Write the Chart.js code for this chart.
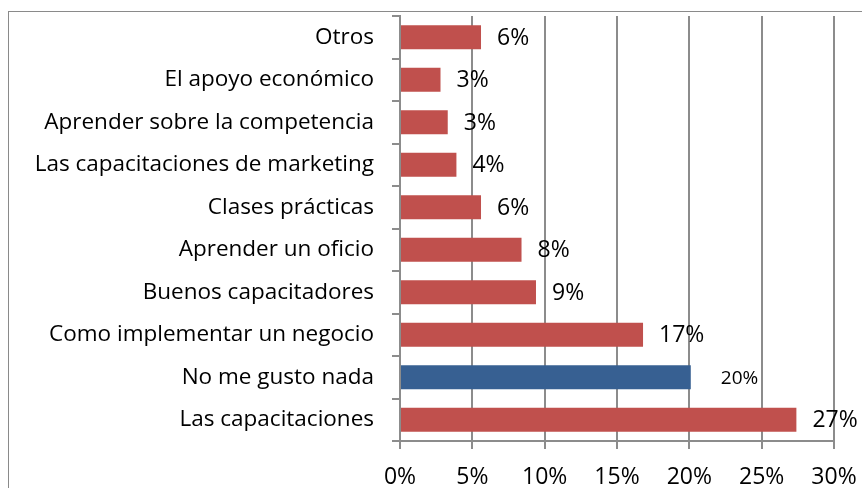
<!DOCTYPE html>
<html>
<head>
<meta charset="utf-8">
<script src="https://cdn.jsdelivr.net/npm/chart.js@4.4.1/dist/chart.umd.min.js"></script>
<style>
  html, body { margin: 0; padding: 0; background: #fff; overflow: hidden; }
  #frame { position: absolute; left: 8px; top: 11px; width: 900px; height: 520px; border: 1px solid #8a8a8a; }
  #chart { position: absolute; left: 0; top: 0; }
</style>
</head>
<body>
<div id="frame"></div>
<canvas id="chart" width="862" height="488"></canvas>
<script>
// Respuestas, de arriba hacia abajo
const categories = [
    'Otros',
    'El apoyo económico',
    'Aprender sobre la competencia',
    'Las capacitaciones de marketing',
    'Clases prácticas',
    'Aprender un oficio',
    'Buenos capacitadores',
    'Como implementar un negocio',
    'No me gusto nada',
    'Las capacitaciones'
];
const percentages = [5.6, 2.8, 3.3, 3.9, 5.6, 8.4, 9.4, 16.8, 20.1, 27.4];
const barColors = ['#c0504d', '#c0504d', '#c0504d', '#c0504d', '#c0504d',
                   '#c0504d', '#c0504d', '#c0504d', '#376092', '#c0504d'];
const xTicks = [0, 5, 10, 15, 20, 25, 30];

const FONT = '"Open Sans"';
const GRID = '#8c8c8c';

// etiquetas de porcentaje a la derecha de cada barra
const valueLabels = {
    id: 'valueLabels',
    afterDatasetsDraw(chart) {
        const ctx = chart.ctx;
        const meta = chart.getDatasetMeta(0);
        ctx.save();
        ctx.fillStyle = '#000';
        ctx.textAlign = 'left';
        ctx.textBaseline = 'middle';
        meta.data.forEach((bar, i) => {
            const small = categories[i] === 'No me gusto nada';
            ctx.font = (small ? '19px ' : '23px ') + FONT;
            ctx.fillText(Math.round(percentages[i]) + '%', bar.x + (small ? 30 : 16), bar.y + 1);
        });
        ctx.restore();
    }
};

// sin margen extra por las etiquetas: el área la fija layout.padding
function noEdgePadding(scale) {
    scale.paddingTop = 0;
    scale.paddingBottom = 0;
    scale.paddingLeft = 0;
    scale.paddingRight = 0;
}

new Chart(document.getElementById('chart').getContext('2d'), {
    type: 'bar',
    data: {
        labels: categories,
        datasets: [{
            data: percentages,
            backgroundColor: barColors,
            borderWidth: 0,
            categoryPercentage: 1,
            barPercentage: 0.57
        }]
    },
    options: {
        indexAxis: 'y',
        responsive: false,
        animation: false,
        layout: { padding: { top: 16, right: 28, left: 0, bottom: 0 } },
        plugins: {
            legend: { display: false },
            tooltip: { enabled: false }
        },
        scales: {
            x: {
                type: 'linear',
                min: 0,
                max: 30,
                afterBuildTicks(scale) {
                    scale.ticks = xTicks.map(v => ({ value: v }));
                },
                afterFit(scale) {
                    scale.height = 47;
                    noEdgePadding(scale);
                },
                ticks: {
                    callback: v => v + '%',
                    color: '#000',
                    font: { family: FONT, size: 23 },
                    padding: 15,
                    maxRotation: 0
                },
                grid: { color: GRID, tickLength: 8, lineWidth: 2 },
                border: { color: GRID, width: 2 }
            },
            y: {
                afterFit(scale) {
                    scale.width = 400;
                    noEdgePadding(scale);
                },
                ticks: {
                    color: '#000',
                    font: { family: FONT, size: 22.5 },
                    padding: 18
                },
                grid: { offset: true, drawOnChartArea: false, color: GRID, tickLength: 8, lineWidth: 2 },
                border: { color: GRID, width: 2 }
            }
        }
    },
    plugins: [valueLabels]
});
</script>
</body>
</html>
